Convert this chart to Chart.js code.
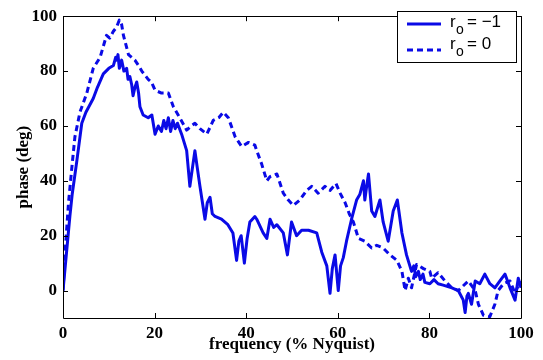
<!DOCTYPE html>
<html>
<head>
<meta charset="utf-8">
<script src="https://cdn.jsdelivr.net/npm/chart.js@4/dist/chart.umd.min.js"></script>
<style>
html,body{margin:0;padding:0;background:#fff;}
#wrap{width:543px;height:360px;}
</style>
</head>
<body>
<div id="wrap"><canvas id="c" width="543" height="360"></canvas></div>
<script>
// ---- data ----
const seriesLabels = ["r0 = \u22121", "r0 = 0"];
const xTickValues = [0, 20, 40, 60, 80, 100];
const yTickValues = [0, 20, 40, 60, 80, 100];

const solidX = [
  0,0.5,1,1.5,2,3,4.1,5,6.6,7.5,
  8.8,10,11,11.5,11.7,12,12.3,12.8,13.3,13.9,
  14.2,14.6,15,15.3,15.7,16.1,16.5,16.8,17.5,18.6,
  19.4,20.1,20.8,21.5,22,22.5,23,23.5,24,24.5,
  25,25.9,27,27.7,28.2,28.8,29.3,29.9,31,31.5,
  32.1,32.6,33.2,34.6,36,37.1,37.9,38.4,38.9,39.6,
  40.2,40.8,41.9,42.3,43.7,44.5,45.2,46,46.7,48.1,
  49,49.9,51,52.1,53.6,55.4,56.5,57.6,58.3,58.8,
  59.4,60.1,60.6,61.2,61.9,63,64.1,64.8,65.6,65.9,
  66.3,66.7,67.4,68.1,69.2,69.9,71,72.1,73,74,
  75,76.1,76.6,77,77.6,78,78.6,79,80.1,81,
  81.9,83,84.9,86.3,87.4,87.8,88.2,88.5,89.2,90,
  91,92.1,93.2,94.3,95.4,96.5,97.6,98.7,99.4,100
];
const solidY = [
  0,9,18,27,35,47,61,65,70,74,
  79,81,82,85,84,86,81,84,80,81,
  77,78,75,71,74,76,72,67,64,63,
  64,57,60,58,62,59,63,58,62,59,
  61,57,51,38,44,51,45,38,26,32,
  34,28,27,26,24,21,11,18,20,10,
  19,25,27,26,21,19,26,23,24,21,
  13,25,20,22,22,21,14,9,-1,8,
  13,0,9,12,18,26,33,35,40,33,
  38,42.5,29,27,33,25,18,29,33,21,
  13,7,9,5,7,4,6,3,2.5,4,
  2.5,2,1,0,-3.5,-8,-2,-1,-5,3.5,
  2.5,6,2.5,1,3.5,6,1,-3.5,4.5,1
];

const dashedX = [
  0,0.5,1.2,2,2.6,3.7,5.2,6.6,8.1,9.5,
  10.2,11,11.7,12.3,12.8,13.2,14.3,15,15.7,16.5,
  17.2,18.6,19.3,20.1,21.5,23,24.1,25.5,27,28,
  28.8,29.9,31.4,32.8,34,35,36.1,37.6,39,40.5,
  41.9,42.3,43.4,44.5,45.2,46.7,48.1,49.2,50.3,51.7,
  53.2,54.3,55.7,57.2,58.3,59.6,60.5,61.6,62.5,63.4,
  64.5,65.9,67.4,68.5,69.9,71.4,72.9,74,74.7,75.4,
  76.1,77.2,78.7,80.1,80.5,81.9,83.4,84.9,86.3,88.5,
  90,90.7,91.8,93.2,94.3,95,96.2,97.6,98.7,99.8
];
const dashedY = [
  0,15,32,46,56,65,72,81,85,93,
  92,94.5,96,98.6,97,93,86,85,84,82,
  80,77,76,73,72,72,67,63,58.5,60,
  61,59,57,62,63,65,63,56,52.5,54,
  53,51,46,40,41.5,42.5,35.5,33,31,33,
  36.5,38,35.5,38,36.5,39,35.5,32,28,25,
  19,18,15.5,16.5,15.5,13,11,7,0,4.5,
  1,9.5,8,7,4.5,6.5,3.5,1,0,3.5,
  0,-5,-9,-9.5,-5,0,2.5,3.5,-1,3.5
];

const xTitle = "frequency (% Nyquist)";
const yTitle = "phase (deg)";

// ---- chart ----
const BLUE = '#0a0ae6';
const serif = '"Liberation Serif", "Times New Roman", serif';
const sans = '"Liberation Sans", Arial, sans-serif';

function pts(xs, ys) { return xs.map((x, i) => ({x: x, y: ys[i]})); }

const boxTicksPlugin = {
  id: 'boxTicks',
  afterDraw(chart) {
    const ctx = chart.ctx, a = chart.chartArea;
    const xs = chart.scales.x, ys = chart.scales.y;
    ctx.save();
    ctx.strokeStyle = '#000';
    ctx.lineWidth = 1;
    ctx.beginPath();
    ctx.rect(Math.round(a.left) + 0.5, Math.round(a.top) + 0.5, Math.round(a.right - a.left), Math.round(a.bottom - a.top));
    ctx.stroke();
    const L = 5;
    ctx.beginPath();
    xTickValues.forEach(v => {
      const px = Math.round(xs.getPixelForValue(v)) + 0.5;
      ctx.moveTo(px, a.bottom); ctx.lineTo(px, a.bottom - L);
      ctx.moveTo(px, a.top); ctx.lineTo(px, a.top + L);
    });
    yTickValues.forEach(v => {
      const py = Math.round(ys.getPixelForValue(v)) + 0.5;
      ctx.moveTo(a.left, py); ctx.lineTo(a.left + L, py);
      ctx.moveTo(a.right, py); ctx.lineTo(a.right - L, py);
    });
    ctx.stroke();

    // legend box
    const bx = 397.5, by = 11.5, bw = 119, bh = 51;
    ctx.fillStyle = '#fff';
    ctx.fillRect(bx, by, bw, bh);
    ctx.strokeRect(bx, by, bw, bh);
    const rows = [{ly: 24, base: 27}, {ly: 50, base: 49}];
    chart.data.datasets.forEach((ds, i) => {
      const r = rows[i];
      ctx.save();
      ctx.strokeStyle = ds.borderColor;
      ctx.lineWidth = ds.borderWidth;
      ctx.setLineDash(ds.borderDash || []);
      ctx.beginPath();
      ctx.moveTo(407, r.ly); ctx.lineTo(441, r.ly);
      ctx.stroke();
      ctx.restore();
      ctx.fillStyle = '#000';
      ctx.textBaseline = 'alphabetic';
      ctx.textAlign = 'left';
      ctx.font = '17px ' + sans;
      ctx.fillText('r', 450, r.base);
      ctx.font = '14px ' + sans;
      ctx.fillText('o', 456, r.base + 7);
      ctx.font = '17px ' + sans;
      ctx.fillText(i === 0 ? '= \u22121' : '= 0', 467, r.base);
    });
    ctx.restore();
  }
};

new Chart(document.getElementById('c'), {
  type: 'line',
  data: {
    datasets: [
      {label: seriesLabels[0], data: pts(solidX, solidY), borderColor: BLUE, backgroundColor: BLUE,
       borderWidth: 3, pointRadius: 0, tension: 0, fill: false, borderJoinStyle: 'round'},
      {label: seriesLabels[1], data: pts(dashedX, dashedY), borderColor: BLUE, backgroundColor: BLUE,
       borderWidth: 3, borderDash: [6, 4], pointRadius: 0, tension: 0, fill: false, borderJoinStyle: 'round'}
    ]
  },
  options: {
    responsive: false,
    animation: false,
    devicePixelRatio: 1,
    layout: {padding: {left: 0, top: 8, right: 22, bottom: 0}},
    plugins: {legend: {display: false}, tooltip: {enabled: false}},
    scales: {
      x: {
        type: 'linear', min: 0, max: 100,
        afterBuildTicks: s => { s.ticks = xTickValues.map(v => ({value: v})); },
        afterFit: s => { s.height = 42; },
        grid: {display: false, drawTicks: false},
        border: {display: false},
        ticks: {color: '#000', padding: 5, maxRotation: 0, font: {family: serif, size: 17, weight: 'bold'}},
        title: {display: true, text: xTitle, color: '#000', padding: {top: 0, bottom: 5},
                font: {family: serif, size: 17, weight: 'bold'}}
      },
      y: {
        type: 'linear', min: -10, max: 100,
        afterBuildTicks: s => { s.ticks = yTickValues.map(v => ({value: v})); },
        afterFit: s => { s.width = 63; },
        grid: {display: false, drawTicks: false},
        border: {display: false},
        ticks: {color: '#000', padding: 6, font: {family: serif, size: 17, weight: 'bold'}},
        title: {display: true, text: yTitle, color: '#000', padding: {top: 13, bottom: 0},
                font: {family: serif, size: 17, weight: 'bold'}}
      }
    }
  },
  plugins: [boxTicksPlugin]
});
</script>
</body>
</html>
